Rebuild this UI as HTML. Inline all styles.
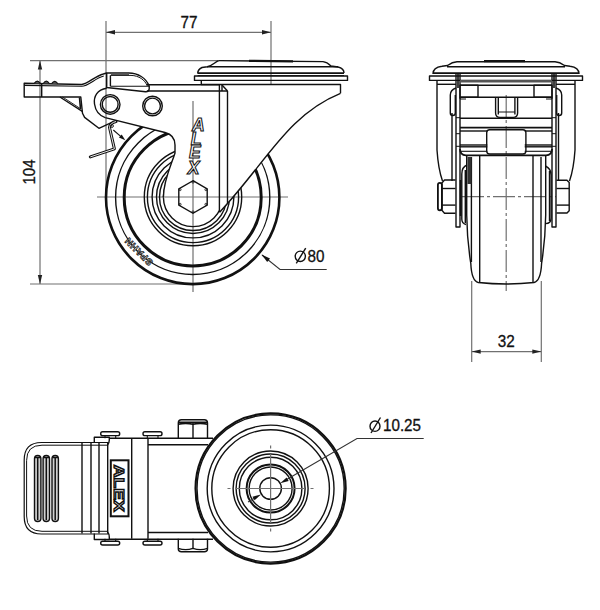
<!DOCTYPE html>
<html><head><meta charset="utf-8"><style>
html,body{margin:0;padding:0;background:#fff;width:600px;height:610px;overflow:hidden}
svg{display:block}
text{font-family:"Liberation Sans",sans-serif}
</style></head><body>
<svg width="600" height="610" viewBox="0 0 600 610">
<defs>
<mask id="mside">
<rect x="0" y="0" width="600" height="610" fill="#fff"/>
<path d="M0,0 L0,112 L103,117.5 L165,132.5 Q175,135 175,145 L175,153 C172,163 163.4,180 163.4,197 L175,206 L219.4,210.5 L219.6,212.2 C265.6,163.5 287.1,114.9 340.5,93.3 L600,93.3 L600,0 Z" fill="#000"/>
</mask>
</defs>
<rect width="600" height="610" fill="#fff"/>

<!-- ============ SIDE VIEW ============ -->
<g stroke="#707070" stroke-width="1.2" fill="none">
<line x1="106" y1="21" x2="106" y2="197"/>
<line x1="271" y1="21" x2="271" y2="85"/>
<line x1="106" y1="32.3" x2="271" y2="32.3"/>
<line x1="30" y1="60.6" x2="218.7" y2="60.6"/>
<line x1="30" y1="284" x2="193" y2="284"/>
<line x1="40" y1="60.6" x2="40" y2="284"/>
<line x1="97" y1="197" x2="288" y2="197"/>
<line x1="193" y1="101" x2="193" y2="292"/>
</g>
<g fill="#222">
<polygon points="106,32.3 115,30.1 115,34.5"/>
<polygon points="271,32.3 262,30.1 262,34.5"/>
<polygon points="40,60.6 37.8,69.6 42.2,69.6"/>
<polygon points="40,284 37.8,275 42.2,275"/>
</g>
<g fill="#111" stroke="#111" stroke-width="0.3">
<!--T77--><text transform="translate(180.5,27.75)" font-size="16.4" textLength="17" lengthAdjust="spacingAndGlyphs">77</text>
<!--T104--><text transform="translate(34.5,184.5) rotate(-90)" font-size="16" textLength="25" lengthAdjust="spacingAndGlyphs">104</text>
</g>

<!-- wheel (masked) -->
<g mask="url(#mside)" fill="none" stroke="#111">
<circle cx="192.7" cy="197.4" r="86.7" stroke-width="2.6"/>
<circle cx="192.7" cy="197.4" r="77.1" stroke-width="1.4"/>
<circle cx="192.7" cy="197.4" r="68.5" stroke-width="3"/>
<circle cx="193" cy="197" r="48.7" stroke-width="1.4"/>
<circle cx="193" cy="197" r="45.6" stroke-width="1.4"/>
<circle cx="193" cy="197" r="40.9" stroke-width="1.4"/>
<circle cx="193" cy="197" r="36.5" stroke-width="1.4"/>
<circle cx="193" cy="197" r="33.5" stroke-width="1.4"/>
<circle cx="193" cy="197" r="29.6" stroke-width="1.4"/>
</g>
<text transform="translate(141,249.3) rotate(225)" font-size="9.5" font-weight="bold" text-anchor="middle" fill="#fff" stroke="#111" stroke-width="0.75" letter-spacing="0.5">SPAHN</text>

<g fill="none" stroke="#111" stroke-width="1.4" stroke-linejoin="round">
<!-- top plate -->
<path d="M218.7,60.6 L323,61.6 C327,62 329,64 331,66 L338,67 C342,68 344,70 344,73"/>
<path d="M218.7,60.6 C215,62 214,65 207.3,66.7 L202,67.5 C199,69 197.7,71 197.7,73.5"/>
<line x1="207" y1="66.8" x2="338" y2="66.8"/>
<line x1="249" y1="60.9" x2="293" y2="61.3" stroke-width="2.2"/>
<line x1="197.7" y1="73.2" x2="344" y2="73.2" stroke-width="1.8"/>
<rect x="194.5" y="76" width="153" height="4.4"/>
<path d="M201.3,80.4 L201.3,84.5 L340.5,84.5 L340.5,93.3"/>
<line x1="197.7" y1="75.6" x2="344" y2="75.6" stroke-width="1"/>
<!-- body top bars -->
<line x1="147" y1="84.7" x2="219.4" y2="84.7"/>
<line x1="147" y1="91" x2="227.5" y2="91"/>
<line x1="219.4" y1="84.7" x2="219.4" y2="212.3"/>
<line x1="222" y1="85" x2="222" y2="91"/>
<line x1="222" y1="85" x2="227.5" y2="91"/>
<line x1="227.5" y1="91" x2="227.5" y2="203.5"/>
<!-- swivel curve -->
<path d="M219.6,212.2 C265.6,163.5 287.1,114.9 340.5,93.3"/>
<!-- body lower slope + fork edge -->
<path d="M105.2,117.6 L165,132.5 Q175,135 175,145 L175,153 C172,163 163.4,180 163.4,197"/>
<!-- pivot round end -->
<path d="M106.7,88.3 C97,89.5 93.5,97 94.5,104 C95.5,111 99,115.5 105.2,117.6"/>
<!-- latch -->
<path d="M106.7,87.5 L106.7,73 L128.75,73 C138,73 146,78 149.2,86 L149.2,89 C149,91 147.5,91.8 145.5,91.7 Z"/>
<line x1="110.4" y1="75.4" x2="110.4" y2="86.3"/>
<line x1="110.4" y1="86.25" x2="149.2" y2="86.25" stroke-width="1.2"/>
<path d="M110.4,75.4 L131,75.4 C139,75.6 145,80 147.3,86" stroke-width="1"/>
<line x1="111" y1="74.2" x2="129" y2="74.2" stroke="#555" stroke-width="1.6"/>
<!-- lever -->
<path d="M106.7,73 L103.3,74 C95,76 88,84 81.7,84.5 L24.2,83.3 L24.2,97 L80.8,97 L82.5,113.3 L84.6,117.4 L98.9,128.3 L113,121.8"/>
<path d="M103.8,76 C95.5,78 88.5,86 81.7,86.3 L24.2,85.4" stroke-width="1.1"/>
<line x1="41.7" y1="83.5" x2="41.7" y2="97"/>
<line x1="59.9" y1="97" x2="82.7" y2="111.7"/>
<line x1="62.5" y1="97" x2="81" y2="109" stroke-width="0.9"/>
<line x1="79.5" y1="97.5" x2="80.5" y2="109" stroke-width="1.6"/>
</g>
<g fill="#555" stroke="#111" stroke-width="1.2">
<path d="M34.3,83.4 Q37.3,78.8 40.3,83.4"/>
<path d="M43.3,83.5 Q46.3,78.9 49.3,83.5"/>
<path d="M51.7,83.7 Q54.7,79.1 57.7,83.7"/>
</g>
<g fill="none" stroke="#111" stroke-width="1.4">
<circle cx="110.2" cy="104.4" r="9.8"/>
<circle cx="110.2" cy="104.4" r="7.9"/>
<circle cx="152.5" cy="106" r="9.8"/>
<circle cx="152.5" cy="106" r="7.9"/>
</g>
<!-- spring -->
<path d="M116,121.5 Q110,123 109.5,127.5 L114.4,148.9 L90.3,156.9" fill="none" stroke="#111" stroke-width="3" stroke-linejoin="round" stroke-linecap="round"/>
<path d="M116,121.5 Q110,123 109.5,127.5 L114.4,148.9 L90.3,156.9" fill="none" stroke="#fff" stroke-width="0.9" stroke-linejoin="round"/>
<circle cx="112" cy="126" r="1.4" fill="none" stroke="#111" stroke-width="0.9"/>
<line x1="113.3" y1="130" x2="121" y2="136.6" stroke="#111" stroke-width="1.1"/>
<polygon points="125.3,140.3 118.9,137.6 121.7,134.4" fill="#111"/>
<!-- ALEX side -->
<g font-size="17.5" font-style="italic" font-weight="bold" text-anchor="middle" fill="#fff" stroke="#111" stroke-width="1.05">
<text x="198.4" y="131">A</text>
<text x="196" y="144.5">L</text>
<text x="194.8" y="158.2">E</text>
<text x="193.5" y="173.7">X</text>
</g>
<!-- hex -->
<polygon points="193,180.7 207.2,188.9 207.2,205.1 193,213.3 178.8,205.1 178.8,188.9" fill="none" stroke="#111" stroke-width="1.4"/>
<g fill="none" stroke="#111" stroke-width="0.8">
<circle cx="193" cy="182.2" r="1"/><circle cx="205.9" cy="189.7" r="1"/><circle cx="205.9" cy="204.3" r="1"/>
<circle cx="193" cy="211.8" r="1"/><circle cx="180.1" cy="204.3" r="1"/><circle cx="180.1" cy="189.7" r="1"/>
</g>

<!-- dia 80 leader -->
<polyline points="262,255 280,269.5 326.7,269.5" fill="none" stroke="#333" stroke-width="1.1"/>
<polygon points="261.5,254.5 270,258.6 267.2,262" fill="#111"/>
<g fill="none" stroke="#111" stroke-width="1.4">
<ellipse cx="300.3" cy="256.3" rx="5.1" ry="5.2"/>
<line x1="296.3" y1="263.3" x2="305.7" y2="248.2"/>
</g>
<!--T80--><text transform="translate(307.5,261.9)" font-size="16.8" textLength="17" lengthAdjust="spacingAndGlyphs" fill="#111" stroke="#111" stroke-width="0.3">80</text>

<!-- ============ FRONT VIEW ============ -->
<g fill="none" stroke="#707070" stroke-width="1.2">
<line x1="506.2" y1="95" x2="506.2" y2="291" stroke-dasharray="22,3,3,3"/>
<line x1="462" y1="196.7" x2="556" y2="196.7" stroke-dasharray="22,3,3,3"/>
<line x1="471.7" y1="281" x2="471.7" y2="362"/>
<line x1="541.3" y1="281" x2="541.3" y2="362"/>
<line x1="471.7" y1="351.6" x2="541.3" y2="351.6"/>
</g>
<g fill="#222">
<polygon points="471.7,351.6 480.7,349.4 480.7,353.8"/>
<polygon points="541.3,351.6 532.3,349.4 532.3,353.8"/>
</g>
<!--T32--><text transform="translate(497.8,346.6)" font-size="16.2" textLength="17" lengthAdjust="spacingAndGlyphs" fill="#111" stroke="#111" stroke-width="0.3">32</text>

<g fill="none" stroke="#111" stroke-width="1.4" stroke-linejoin="round">
<!-- mount plate -->
<path d="M433,74 C433,70 436,67 442,66.3 L447.5,65.5 C451,63 453,62 457,61.8 L555,61.8 C559,62 561,63 564.5,65.5 L570,66.3 C576,67 579,70 579,74"/>
<line x1="447" y1="66.8" x2="565" y2="66.8"/>
<line x1="484" y1="61.2" x2="525" y2="61.2" stroke-width="2.2"/>
<line x1="433" y1="73.2" x2="579" y2="73.2" stroke-width="1.8"/>
<rect x="429.5" y="76" width="153" height="4.4"/>
<path d="M437,80.4 L437,150 C438,165 440,174 442.5,181"/>
<path d="M575,80.4 L575,150 C574,165 572,174 569.5,181"/>
<line x1="437" y1="84.3" x2="456" y2="84.3"/>
<line x1="556" y1="84.3" x2="575" y2="84.3"/>
<!-- fork plates -->
<path d="M456,73.2 L456,227 L460,227 L460,73.2"/>
<path d="M556,73.2 L556,227 L552,227 L552,73.2"/>
<line x1="452" y1="113" x2="452" y2="181"/>
<line x1="558.5" y1="113" x2="558.5" y2="181"/>
<path d="M456,88 Q450.3,90 450.3,95 L450.3,113 Q450.3,115.5 452.8,115.5 Q455.3,115.5 455.3,113 L455.3,95"/>
<path d="M556,88 Q561.7,90 561.7,95 L561.7,113 Q561.7,115.5 559.2,115.5 Q556.7,115.5 556.7,113 L556.7,95"/>
<path d="M456,117.7 L460,117.7 M456,133.7 L460,133.7 M456,146.3 L460,146.3 M552,117.7 L556,117.7 M552,133.7 L556,133.7 M552,146.3 L556,146.3" stroke-width="1"/>
<!-- inner top -->
<line x1="460" y1="81.3" x2="552" y2="81.3" stroke="#555" stroke-width="2.4"/>
<line x1="460" y1="85.3" x2="552" y2="85.3"/>
<rect x="460" y="85.3" width="18" height="11.9"/>
<rect x="534" y="85.3" width="18" height="11.9"/>
<line x1="460" y1="97.2" x2="552" y2="97.2"/>
<path d="M460,97.2 L460,99 L466,99 M552,97.2 L552,99 L546,99" stroke-width="1"/>
<path d="M495.6,97.2 L495.6,113 Q495.6,117.4 500,117.4 L513.2,117.4 Q517.6,117.4 517.6,113 L517.6,97.2"/>
<line x1="498.3" y1="97.2" x2="498.3" y2="114.5"/>
<line x1="514.9" y1="97.2" x2="514.9" y2="114.5"/>
<line x1="498.3" y1="112" x2="514.9" y2="112" stroke-width="1"/>
<line x1="460" y1="118.3" x2="552" y2="118.3"/>
<line x1="460" y1="127.7" x2="552" y2="127.7" stroke-width="1.8"/>
<rect x="486.7" y="129.8" width="39.2" height="24.2" rx="3"/>
<line x1="460" y1="131" x2="487.3" y2="131"/>
<line x1="524.7" y1="131" x2="552" y2="131"/>
<line x1="460" y1="145" x2="487.3" y2="145"/>
<line x1="524.7" y1="145" x2="552" y2="145"/>
<line x1="460" y1="146.8" x2="487.3" y2="146.8"/>
<line x1="524.7" y1="146.8" x2="552" y2="146.8"/>
<line x1="461" y1="151.3" x2="487.3" y2="151.3" stroke-width="1.1"/>
<line x1="524.7" y1="151.3" x2="551" y2="151.3" stroke-width="1.1"/>
<path d="M460,149 Q460,155.3 466,155.3 L546,155.3 Q552,155.3 552,149" stroke-width="1.8"/>
<!-- tire -->
<path d="M466.7,156 L466.7,215 C467,235 468.3,248 470.8,263.3 Q471.5,281 478.3,282.5 Q506.2,285.5 534,282.5 Q540.8,281 541.6,263.3 C544,248 545.4,235 545.7,215 L545.7,156"/>
<line x1="471.4" y1="157" x2="471.4" y2="262"/>
<line x1="541" y1="157" x2="541" y2="262"/>
<line x1="479.7" y1="156" x2="479.7" y2="282.5"/>
<line x1="533" y1="156" x2="533" y2="282.5"/>
<!-- washers / hub boss -->
<path d="M467,165 Q461.8,167 461.8,174 L461.8,219 Q461.8,223.5 466,224.5"/>
<line x1="465.3" y1="170" x2="465.3" y2="223"/>
<line x1="460.6" y1="180" x2="460.6" y2="216" stroke-width="1.8"/>
<path d="M545.4,166 Q551.1,168.7 551.1,175 L551.1,218 Q551.1,223.6 545.4,223.6"/>
<line x1="549.5" y1="171" x2="549.5" y2="221"/>
<!-- nuts -->
<rect x="437.9" y="182.8" width="4" height="27.5" rx="2" stroke-width="1.8"/>
<path d="M455.5,180 L444.5,180 L441.9,183 L441.9,210.3 L444.5,213.2 L455.5,213.2"/>
<line x1="441.9" y1="188.5" x2="455.5" y2="188.5"/>
<line x1="441.9" y1="205.1" x2="455.5" y2="205.1"/>
<path d="M556.5,180.2 L567,180.2 L569.2,182.5 L569.2,210.7 L567,213 L556.5,213"/>
<line x1="556.5" y1="188.5" x2="569.2" y2="188.5"/>
<line x1="556.5" y1="205.1" x2="569.2" y2="205.1"/>
</g>
<g fill="#111">
<rect x="467.5" y="157" width="4" height="27" fill="#333"/>
<rect x="457.2" y="74" width="1.6" height="14"/>
<rect x="553.2" y="74" width="1.6" height="14"/>
</g>

<!-- ============ BOTTOM VIEW ============ -->
<g fill="none" stroke="#111" stroke-width="1.4" stroke-linejoin="round">
<!-- pedal -->
<path d="M108,442.5 L41.5,442.5 Q24.2,442.5 24.2,460 L24.2,516.5 Q24.2,534 41.5,534 L108,534" stroke-width="1.2"/>
<path d="M108,445.2 L42,445.2 Q26.6,445.2 26.6,460.5 L26.6,516 Q26.6,531.3 42,531.3 L108,531.3" stroke-width="1"/>
<line x1="82" y1="443" x2="82" y2="533.6"/>
<line x1="91" y1="443" x2="91" y2="533.6"/>
<line x1="99" y1="443" x2="99" y2="533.6"/>
<line x1="107.7" y1="443" x2="107.7" y2="533.6"/>
</g>
<g fill="#d0d0d0" stroke="#111" stroke-width="1.4">
<rect x="34.5" y="455.5" width="6.4" height="66" rx="3.2"/>
<rect x="43.1" y="455.5" width="6.4" height="66" rx="3.2"/>
<rect x="52" y="455.5" width="6.4" height="66" rx="3.2"/>
</g>
<g stroke="#111" stroke-width="1.5">
<line x1="37.7" y1="457" x2="37.7" y2="520"/>
<line x1="46.3" y1="457" x2="46.3" y2="520"/>
<line x1="55.2" y1="457" x2="55.2" y2="520"/>
<line x1="35" y1="457.5" x2="40.5" y2="457.5"/>
<line x1="43.6" y1="457.5" x2="49.1" y2="457.5"/>
<line x1="52.5" y1="457.5" x2="58" y2="457.5"/>
</g>
<g fill="none" stroke="#111" stroke-width="1.4" stroke-linejoin="round">
<!-- bracket -->
<line x1="109" y1="438.3" x2="213" y2="438.3"/>
<line x1="109" y1="539.3" x2="213" y2="539.3"/>
<line x1="148" y1="444.7" x2="208" y2="444.7"/>
<line x1="148" y1="532.5" x2="208" y2="532.5"/>
<path d="M94.3,443 L94.3,437.3 L109.3,437.3 L109.3,440 Q109.3,443 107.5,445"/>
<path d="M94.3,533.6 L94.3,539.5 L109.3,539.5 L109.3,537 Q109.3,534 107.5,532"/>
<line x1="131.7" y1="438.3" x2="131.7" y2="538.7"/>
<line x1="148" y1="438.3" x2="148" y2="538.7"/>
<!-- rivets -->
<rect x="100.7" y="431.8" width="19" height="3.8" rx="1.9"/>
<rect x="143" y="431.8" width="19" height="3.8" rx="1.9"/>
<rect x="100.7" y="541.2" width="19" height="3.8" rx="1.9"/>
<rect x="143" y="541.2" width="19" height="3.8" rx="1.9"/>
<path d="M105,435.6 L105,438.3 M115.7,435.6 L115.7,438.3 M147.3,435.6 L147.3,438.3 M158,435.6 L158,438.3 M105,538.7 L105,541.2 M115.7,538.7 L115.7,541.2 M147.3,538.7 L147.3,541.2 M158,538.7 L158,541.2" stroke-width="1.1"/>
<!-- bolts -->
<path d="M178.3,438.3 L178.3,423 Q178.3,419.7 181.5,419.7 L204.3,419.7 Q207.5,419.7 207.5,423 L207.5,438.3"/>
<path d="M178.3,422.2 L207.5,422.2 M178.3,424.2 Q185.6,422.6 193,424.2 Q200.3,422.6 207.5,424.2" stroke-width="1.6"/>
<line x1="193" y1="422.5" x2="193" y2="438.3"/>
<path d="M178.3,538.7 L178.3,549 Q178.3,551.7 181.5,551.7 L204.3,551.7 Q207.5,551.7 207.5,549 L207.5,538.7"/>
<line x1="193" y1="538.7" x2="193" y2="549"/>
<path d="M178.3,548.3 Q185.6,550.8 193,548.3 Q200.3,550.8 207.5,548.3" stroke-width="1.3"/>
</g>
<rect x="110.8" y="460.3" width="17.7" height="56" fill="#fff" stroke="#111" stroke-width="2"/>
<text transform="translate(114.2,488.3) rotate(90)" font-size="15.5" font-weight="bold" text-anchor="middle" fill="#fff" stroke="#111" stroke-width="1.35" textLength="47" lengthAdjust="spacingAndGlyphs">ALEX</text>

<!-- wheel bottom view -->
<g fill="none" stroke="#111">
<circle cx="270.6" cy="488.5" r="75.1" stroke-width="2.1" fill="#fff"/>
<circle cx="270.6" cy="488.5" r="73.6" stroke-width="1.4"/>
<circle cx="270.6" cy="488.5" r="63.4" stroke-width="1.4"/>
<circle cx="270.6" cy="488.5" r="58.8" stroke-width="1.4"/>
<circle cx="270.6" cy="488.5" r="37.5" stroke-width="1.4"/>
<circle cx="270.6" cy="488.5" r="34.5" stroke-width="1.4"/>
<circle cx="270.6" cy="488.5" r="31.3" stroke-width="1.4"/>
<circle cx="270.6" cy="488.5" r="24" stroke-width="2"/>
<circle cx="270.6" cy="488.5" r="21.5" stroke-width="1.4"/>
<circle cx="270.6" cy="488.5" r="10.8" stroke-width="1.4"/>
</g>
<g stroke="#707070" stroke-width="1.2" fill="none">
<path d="M227.5,488.5 L230.5,488.5 M236,488.5 L305,488.5 M310.5,488.5 L313.5,488.5"/>
<path d="M270.6,445.5 L270.6,448.5 M270.6,454 L270.6,523 M270.6,528.5 L270.6,531.5"/>
</g>
<line x1="248" y1="502" x2="256" y2="497.4" stroke="#333" stroke-width="1.1"/>
<polyline points="423.7,438.5 357,438.5 285,480.4" fill="none" stroke="#333" stroke-width="1.1"/>
<polygon points="280.2,483.2 286.6,477.4 288.7,481" fill="#111"/>
<polygon points="261,494.5 254.6,500.3 252.5,496.7" fill="#111"/>
<g fill="none" stroke="#111" stroke-width="1.4">
<ellipse cx="375" cy="426.2" rx="5" ry="5.2"/>
<line x1="371" y1="433" x2="380.5" y2="417.5"/>
</g>
<!--T1025--><text transform="translate(383,431.1)" font-size="15.8" textLength="38" lengthAdjust="spacingAndGlyphs" fill="#111" stroke="#111" stroke-width="0.3">10.25</text>
</svg>
</body></html>
